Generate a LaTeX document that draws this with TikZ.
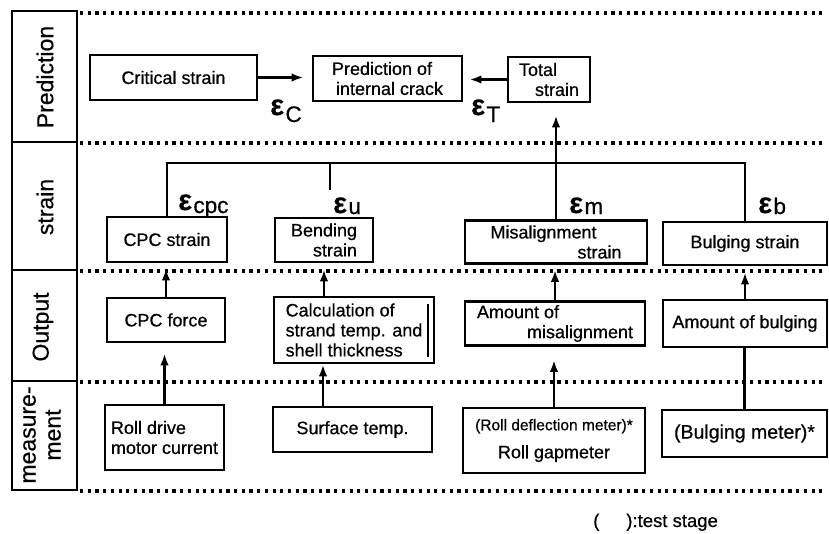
\documentclass[tikz,border=0pt]{standalone}
\usepackage{fontspec}
\setmainfont[FakeBold=0.6]{Liberation Sans}
\usetikzlibrary{arrows.meta}
\newcommand{\bxf}{\fontsize{18}{20}\selectfont}
\newcommand{\lblf}{\fontsize{23}{25}\selectfont}
\newcommand{\epsl}[2]{{\fontsize{29}{29}\selectfont\bfseries ε}\hspace{1.5pt}\raisebox{-#2}{\fontsize{22.5}{22}\selectfont #1}}
\begin{document}
\begin{tikzpicture}[x=1pt,y=-1pt]
\tikzset{
 box/.style={draw, line width=2.8pt, inner sep=0pt, align=center, font=\bxf},
 conn/.style={line width=2.6pt},
 arr/.style={conn, -{Latex[length=12pt,width=8.5pt]}},
 dots/.style={line width=3.2pt, dash pattern=on 3.2pt off 4.5pt},
 rowlbl/.style={rotate=90, font=\lblf, align=center, inner sep=0pt},
 eps/.style={anchor=base west, inner sep=0pt},
}
\useasboundingbox (0,0) rectangle (829,533);

% left column
\draw[line width=2.8pt] (12,11) rectangle (77,490);
\draw[line width=2.8pt] (12,142) -- (77,142);
\draw[line width=2.8pt] (12,270) -- (77,270);
\draw[line width=2.8pt] (12,381) -- (77,381);
\node[rowlbl] (lpred) at (45,77) {Prediction};
\node[rowlbl] (lstr) at (45,207) {strain};
\node[rowlbl] (lout) at (43,327) {Output};
\node[rowlbl] (lmeas) at (42,435) {measure-\\ment};

% dotted row lines
\draw[dots] (80,13) -- (826,13);
\draw[dots] (80,143) -- (826,143);
\draw[dots] (80,271) -- (826,271);
\draw[dots] (80,382) -- (826,382);
\draw[dots] (80,491) -- (826,491);

% prediction row
\node[box, minimum width=167pt, minimum height=45pt] (crit) at (173.5,77.5) {Critical strain};
\node[box, minimum width=149pt, minimum height=45pt, align=left] (pred) at (387.5,78.5) {Prediction of\\\hspace*{4pt}internal crack};
\node[box, minimum width=82pt, minimum height=45pt, align=left] (total) at (549,79.5) {Total\\\hspace*{16pt}strain};

% strain row
\node[box, minimum width=120pt, minimum height=45pt] (cpcs) at (167,239.5) {CPC strain};
\node[box, minimum width=98pt, minimum height=44pt, align=left] (bend) at (324,240) {Bending\\\hspace*{22pt}strain};
\node[box, minimum width=182pt, minimum height=43pt, align=left] (miss) at (556,242) {Misalignment\\\hspace*{87pt}strain};
\node[box, minimum width=164pt, minimum height=43pt] (bstr) at (745,243.5) {Bulging strain};

% output row
\node[box, minimum width=118pt, minimum height=44pt] (cpcf) at (166,320) {CPC force};
\node[box, minimum width=160pt, minimum height=66pt, align=left] (calc) at (354,330) {Calculation of\\strand temp. and\\shell thickness};
\draw[line width=1.3pt] (428,304) -- (428,357);
\node[box, minimum width=180pt, minimum height=44pt, align=left] (amis) at (555,323.5) {Amount of\\\hspace*{50pt}misalignment};
\node[box, minimum width=164pt, minimum height=47pt] (abulg) at (745,323.5) {Amount of bulging};

% measurement row
\node[box, minimum width=119pt, minimum height=65pt, align=left] (roll) at (164.5,437.5) {Roll drive\\motor current};
\node[box, minimum width=159pt, minimum height=45pt] (surf) at (352.5,429.5) {Surface temp.};
\node[box, minimum width=182pt, minimum height=65pt] (gap) at (554,440.5) {{\fontsize{15.5}{17}\selectfont (Roll deflection meter)*}\\[8pt]Roll gapmeter};
\node[box, minimum width=165pt, minimum height=47pt, font=\fontsize{19.5}{21}\selectfont] (bmet) at (744.5,433.5) {(Bulging meter)*};

% epsilon labels
\node[eps] (ec) at (270,115) {\epsl{C}{7pt}};
\node[eps] (et) at (471,115) {\epsl{T}{7pt}};
\node[eps] (ecpc) at (178,210) {\epsl{cpc}{3pt}};
\node[eps] (eu) at (333,213) {\epsl{u}{1pt}};
\node[eps] (em) at (569,213) {\epsl{m}{1pt}};
\node[eps] (eb) at (758,213) {\epsl{b}{1pt}};

% connectors
\coordinate (bus) at (0,163);
\draw[conn] (cpcs.north) -- (cpcs.north |- bus) -- (bstr.north |- bus) -- (bstr.north);
\coordinate (ustub) at (330,190);
\draw[conn] (ustub) -- (ustub |- bus);
\draw[arr, shorten >=12pt] (miss.north) -- (miss.north |- total.south);
\draw[arr, shorten >=8pt] (crit.east) -- (crit.east -| pred.west);
\draw[arr, shorten >=6pt] (total.west) -- (total.west -| pred.east);

\draw[arr, shorten >=5pt] (cpcf.north) -- (cpcf.north |- cpcs.south);
\draw[arr, shorten >=10pt] (roll.north) -- (roll.north |- cpcf.south);
\draw[arr, shorten >=6pt] (bend.south |- calc.north) -- (bend.south);
\draw[arr] ([xshift=-29.5pt]surf.north) -- ([xshift=-29.5pt]surf.north |- calc.south);
\draw[arr, shorten >=5pt] (amis.north) -- (amis.north |- miss.south);
\draw[arr, shorten >=13pt] (gap.north) -- (gap.north |- amis.south);
\draw[conn] (bmet.north) -- (bmet.north |- abulg.south);
\draw[arr, shorten >=6pt] (abulg.north) -- (abulg.north |- bstr.south);

% footnote
\node[anchor=base west, inner sep=0pt, font=\fontsize{18.5}{20}\selectfont] (note) at (593,527) {(\hspace{27pt}):test stage};
\end{tikzpicture}
\end{document}
